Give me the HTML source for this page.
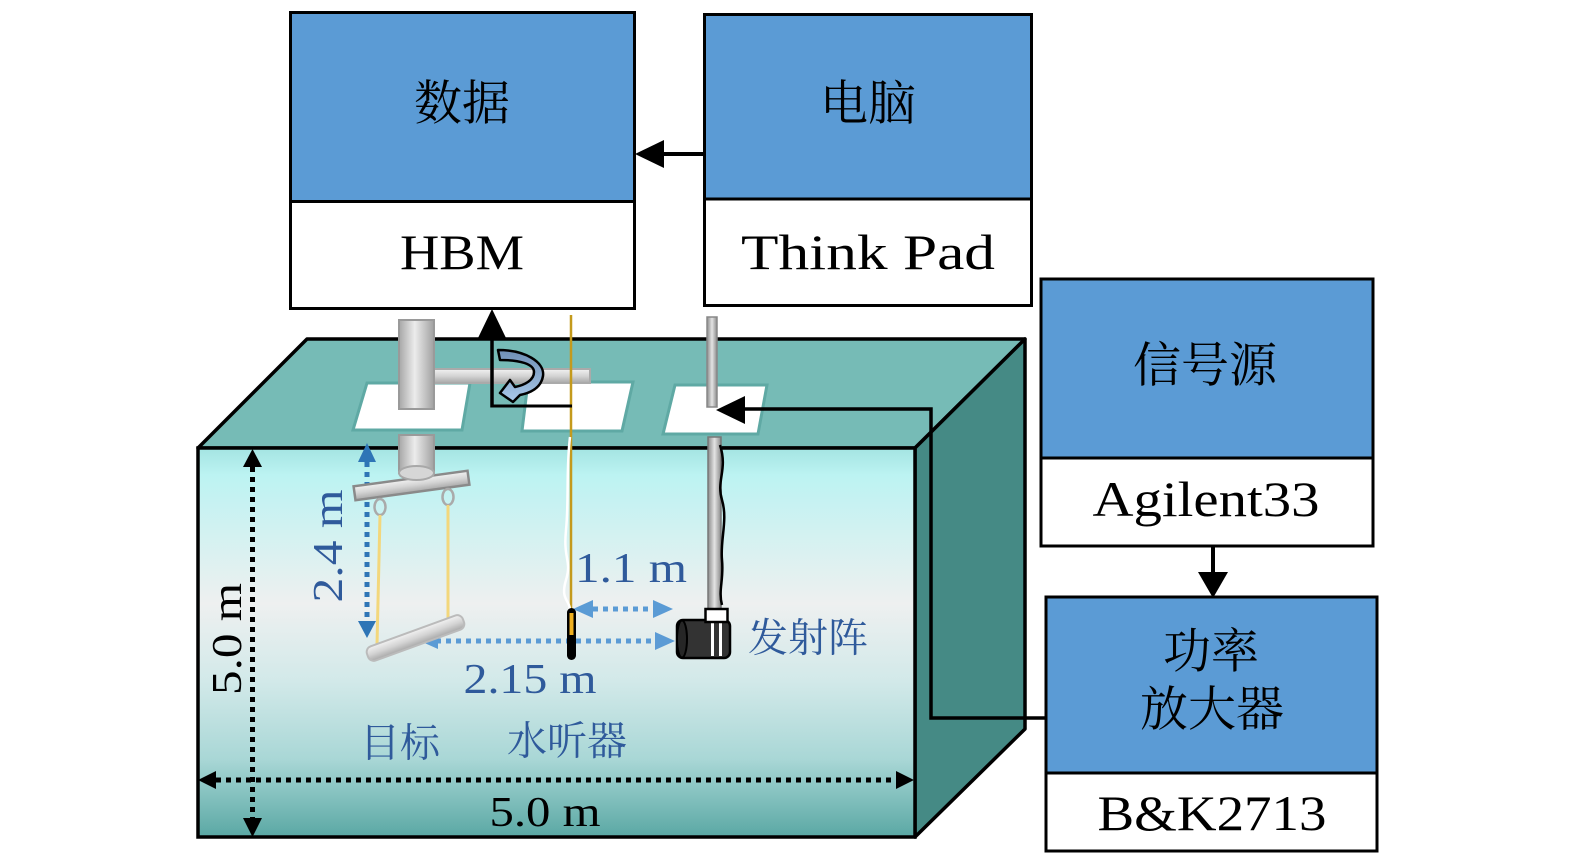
<!DOCTYPE html>
<html>
<head>
<meta charset="utf-8">
<style>
  html, body { margin: 0; padding: 0; background: #ffffff; }
  svg { display: block; }
  .cjk { font-family: "Liberation Serif", "Noto Serif CJK SC", serif; }
  .lat { font-family: "Liberation Serif", serif; }
</style>
</head>
<body>
<svg width="1575" height="866" viewBox="0 0 1575 866" xmlns="http://www.w3.org/2000/svg">
  <defs>
    <linearGradient id="water" x1="0" y1="0" x2="0" y2="1">
      <stop offset="0" stop-color="#a4e4e2"/>
      <stop offset="0.07" stop-color="#bcf3f2"/>
      <stop offset="0.40" stop-color="#eef0f0"/>
      <stop offset="0.60" stop-color="#d2e9e9"/>
      <stop offset="0.80" stop-color="#a9d7d6"/>
      <stop offset="1" stop-color="#5aa8a4"/>
    </linearGradient>
    <linearGradient id="poleH" x1="0" y1="0" x2="1" y2="0">
      <stop offset="0" stop-color="#a6a6a6"/>
      <stop offset="0.45" stop-color="#ececec"/>
      <stop offset="1" stop-color="#a0a0a0"/>
    </linearGradient>
    <linearGradient id="poleV" x1="0" y1="0" x2="0" y2="1">
      <stop offset="0" stop-color="#f2f2f2"/>
      <stop offset="0.5" stop-color="#d4d4d4"/>
      <stop offset="1" stop-color="#a8a8a8"/>
    </linearGradient>
    <linearGradient id="rod" x1="0" y1="0" x2="1" y2="0">
      <stop offset="0" stop-color="#8a8a8a"/>
      <stop offset="0.5" stop-color="#e4e4e4"/>
      <stop offset="1" stop-color="#8a8a8a"/>
    </linearGradient>
    <linearGradient id="rot" x1="0" y1="0" x2="0" y2="1">
      <stop offset="0" stop-color="#6f8fb5"/>
      <stop offset="1" stop-color="#a9c9ea"/>
    </linearGradient>
  </defs>

  <!-- ===== Top boxes ===== -->
  <rect x="290.5" y="12.5" width="344" height="189" fill="#5b9bd5"/>
  <rect x="290.5" y="201.5" width="344" height="107" fill="#ffffff"/>
  <rect x="290.5" y="12.5" width="344" height="296" fill="none" stroke="#000" stroke-width="3"/>
  <line x1="290.5" y1="201.5" x2="634.5" y2="201.5" stroke="#000" stroke-width="3"/>
  <text class="cjk" x="462" y="104" font-size="48" text-anchor="middle" dominant-baseline="central" fill="#000">数据</text>
  <text class="lat" x="462" y="269" font-size="50" text-anchor="middle" textLength="124" lengthAdjust="spacingAndGlyphs" fill="#000">HBM</text>

  <rect x="704.5" y="14.5" width="327" height="185" fill="#5b9bd5"/>
  <rect x="704.5" y="199.5" width="327" height="106" fill="#ffffff"/>
  <rect x="704.5" y="14.5" width="327" height="291" fill="none" stroke="#000" stroke-width="3"/>
  <line x1="704.5" y1="199" x2="1031.5" y2="199" stroke="#000" stroke-width="3"/>
  <text class="cjk" x="868" y="104" font-size="48" text-anchor="middle" dominant-baseline="central" fill="#000">电脑</text>
  <text class="lat" x="868" y="269" font-size="50" text-anchor="middle" textLength="254" lengthAdjust="spacingAndGlyphs" fill="#000">Think Pad</text>

  <line x1="704" y1="154" x2="660" y2="154" stroke="#000" stroke-width="4"/>
  <polygon points="635,154 664,140 664,168" fill="#000"/>

  <rect x="1041" y="279" width="332" height="179" fill="#5b9bd5"/>
  <rect x="1041" y="458" width="332" height="88" fill="#ffffff"/>
  <rect x="1041" y="279" width="332" height="267" fill="none" stroke="#000" stroke-width="3"/>
  <line x1="1041" y1="458" x2="1373" y2="458" stroke="#000" stroke-width="3"/>
  <text class="cjk" x="1205" y="366" font-size="48" text-anchor="middle" dominant-baseline="central" fill="#000">信号源</text>
  <text class="lat" x="1206" y="516" font-size="50" text-anchor="middle" textLength="227" lengthAdjust="spacingAndGlyphs" fill="#000">Agilent33</text>

  <line x1="1213" y1="546" x2="1213" y2="576" stroke="#000" stroke-width="4"/>
  <polygon points="1213,598 1198,572 1228,572" fill="#000"/>

  <rect x="1046" y="597" width="331" height="176" fill="#5b9bd5"/>
  <rect x="1046" y="773" width="331" height="78" fill="#ffffff"/>
  <rect x="1046" y="597" width="331" height="254" fill="none" stroke="#000" stroke-width="3"/>
  <line x1="1046" y1="773" x2="1377" y2="773" stroke="#000" stroke-width="3"/>
  <text class="cjk" x="1211" y="652" font-size="48" text-anchor="middle" dominant-baseline="central" fill="#000">功率</text>
  <text class="cjk" x="1212" y="710" font-size="48" text-anchor="middle" dominant-baseline="central" fill="#000">放大器</text>
  <text class="lat" x="1212" y="830" font-size="50" text-anchor="middle" textLength="229" lengthAdjust="spacingAndGlyphs" fill="#000">B&amp;K2713</text>

  <!-- ===== Tank ===== -->
  <polygon points="198,448 307,339 1025,339 915,448" fill="#76bbb6" stroke="#000" stroke-width="3.5" stroke-linejoin="round"/>
  <polygon points="915,448 1025,339 1025,729 915,837" fill="#458a85" stroke="#000" stroke-width="3.5" stroke-linejoin="round"/>
  <rect x="198" y="448" width="717" height="389" fill="url(#water)" stroke="#000" stroke-width="3.5"/>

  <polygon points="367,383 470,383 462,430 353,430" fill="#ffffff" stroke="#5fa9a4" stroke-width="3"/>
  <polygon points="528,382 633,382 622,431 522,431" fill="#ffffff" stroke="#5fa9a4" stroke-width="3"/>
  <polygon points="675,385 767,385 758,434 663,434" fill="#ffffff" stroke="#5fa9a4" stroke-width="3"/>

  <line x1="252.5" y1="467" x2="252.5" y2="818" stroke="#000" stroke-width="5" stroke-dasharray="5 5"/>
  <polygon points="252.5,449 243,467 262,467" fill="#000"/>
  <polygon points="252.5,837 243,818 262,818" fill="#000"/>
  <line x1="216" y1="780" x2="896" y2="780" stroke="#000" stroke-width="5" stroke-dasharray="5 5"/>
  <polygon points="198,780 216,771 216,789" fill="#000"/>
  <polygon points="914,780 896,771 896,789" fill="#000"/>

  <text class="lat" x="545" y="826" font-size="42" text-anchor="middle" textLength="111" lengthAdjust="spacingAndGlyphs" fill="#000">5.0 m</text>
  <text class="lat" transform="translate(241,639) rotate(-90)" x="0" y="0" font-size="42" text-anchor="middle" textLength="112" lengthAdjust="spacingAndGlyphs" fill="#000">5.0 m</text>

  <line x1="367" y1="462" x2="367" y2="622" stroke="#2e75b6" stroke-width="5" stroke-dasharray="5 5"/>
  <polygon points="367,443 358,462 376,462" fill="#2e75b6"/>
  <polygon points="367,638 358,621 376,621" fill="#2e75b6"/>

  <line x1="436" y1="641" x2="655" y2="641" stroke="#5b9bd5" stroke-width="5" stroke-dasharray="5 5"/>
  <polygon points="675,641 655,632 655,650" fill="#5b9bd5"/>
  <polygon points="420,641 438,633 438,649" fill="#5b9bd5"/>

  <line x1="593" y1="609" x2="653" y2="609" stroke="#5b9bd5" stroke-width="5" stroke-dasharray="5 5"/>
  <polygon points="573,609 593,600 593,618" fill="#5b9bd5"/>
  <polygon points="673,609 653,600 653,618" fill="#5b9bd5"/>

  <!-- ===== Target holder ===== -->
  <rect x="434" y="369" width="156" height="14" fill="url(#poleV)" stroke="#aaaaaa" stroke-width="2"/>
  <rect x="399" y="320" width="35" height="89" fill="url(#poleH)" stroke="#9a9a9a" stroke-width="2"/>
  <rect x="399" y="435" width="35" height="38" fill="url(#poleH)" stroke="#9a9a9a" stroke-width="2"/>
  <g transform="translate(411.5,485.5) rotate(-7.8)">
    <rect x="-57.5" y="-7" width="115" height="14" fill="url(#poleV)" stroke="#8a8a8a" stroke-width="2.5"/>
  </g>
  <ellipse cx="416.5" cy="473" rx="17.5" ry="7" fill="#d6d6d6" stroke="#a8a8a8" stroke-width="2"/>
  <ellipse cx="380" cy="507" rx="5.5" ry="8" fill="none" stroke="#aaaaaa" stroke-width="2.5"/>
  <ellipse cx="448" cy="497" rx="5.5" ry="8" fill="none" stroke="#aaaaaa" stroke-width="2.5"/>
  <line x1="380" y1="515" x2="377" y2="645" stroke="#f3d77c" stroke-width="3"/>
  <line x1="448" y1="505" x2="448" y2="622" stroke="#f3d77c" stroke-width="3"/>
  <g transform="translate(415.5,638) rotate(-20)">
    <rect x="-51" y="-7.5" width="102" height="15" rx="6" fill="url(#poleV)" stroke="#bbbbbb" stroke-width="2"/>
  </g>

  <!-- ===== Hydrophone ===== -->
  <line x1="571" y1="315" x2="571" y2="610" stroke="#c49a1c" stroke-width="2.5"/>
  <path d="M570 437 C566 470,569 500,566 530 S572 560,566 580 S570 600,570 610" fill="none" stroke="#ffffff" stroke-width="2.5"/>
  <rect x="567" y="608" width="9" height="52" rx="4.5" fill="#000"/>
  <rect x="569.5" y="613" width="4" height="22" fill="#f0b020"/>

  <line x1="572" y1="406" x2="490.5" y2="406" stroke="#000" stroke-width="3"/>
  <line x1="492" y1="407.5" x2="492" y2="334" stroke="#000" stroke-width="3.5"/>
  <polygon points="492,309 478,338 506,338" fill="#000"/>

  <path d="M498 350 C525 350,545 362,543 376 C541 388,530 393,520 395 L513 402 L500 393 L510 380 L515 387 C525 385,534 380,534 372 C534 364,520 360,500 360 Z" fill="url(#rot)" stroke="#000" stroke-width="2.5" stroke-linejoin="round"/>

  <!-- ===== Transmitter ===== -->
  <rect x="707" y="317" width="10" height="90" fill="url(#rod)" stroke="#888" stroke-width="1.5"/>
  <rect x="708" y="437" width="13" height="175" fill="url(#rod)" stroke="#777" stroke-width="1.5"/>
  <path d="M720 445 C728 470,716 480,722 500 S720 540,722 560 S718 590,722 605" fill="none" stroke="#000" stroke-width="2.5"/>
  <rect x="677" y="620" width="53" height="38" rx="6" fill="#333333" stroke="#000" stroke-width="2.5"/>
  <ellipse cx="682" cy="639" rx="5" ry="18.5" fill="#262626" stroke="#000" stroke-width="2"/>
  <rect x="711" y="622" width="3" height="34" fill="#ffffff"/>
  <rect x="719" y="622" width="3" height="34" fill="#ffffff"/>
  <rect x="705.5" y="609" width="22" height="13" fill="#ffffff" stroke="#000" stroke-width="2.5"/>

  <polyline points="1046,718 931,718 931,409 742,409" fill="none" stroke="#000" stroke-width="3.5"/>
  <polygon points="716,410 745,396 745,424" fill="#000"/>

  <!-- blue labels -->
  <text class="lat" transform="translate(342,546) rotate(-90)" x="0" y="0" font-size="42" text-anchor="middle" textLength="113" lengthAdjust="spacingAndGlyphs" fill="#2f5a9b">2.4 m</text>
  <text class="lat" x="631" y="582" font-size="42" text-anchor="middle" textLength="112" lengthAdjust="spacingAndGlyphs" fill="#2f5a9b">1.1 m</text>
  <text class="lat" x="530" y="693" font-size="42" text-anchor="middle" textLength="133" lengthAdjust="spacingAndGlyphs" fill="#2f5a9b">2.15 m</text>
  <text class="cjk" x="400" y="743" font-size="40" text-anchor="middle" dominant-baseline="central" fill="#2f5a9b">目标</text>
  <text class="cjk" x="567" y="741" font-size="40" text-anchor="middle" dominant-baseline="central" fill="#2f5a9b">水听器</text>
  <text class="cjk" x="808" y="638" font-size="40" text-anchor="middle" dominant-baseline="central" fill="#2f5a9b">发射阵</text>
</svg>
</body>
</html>
